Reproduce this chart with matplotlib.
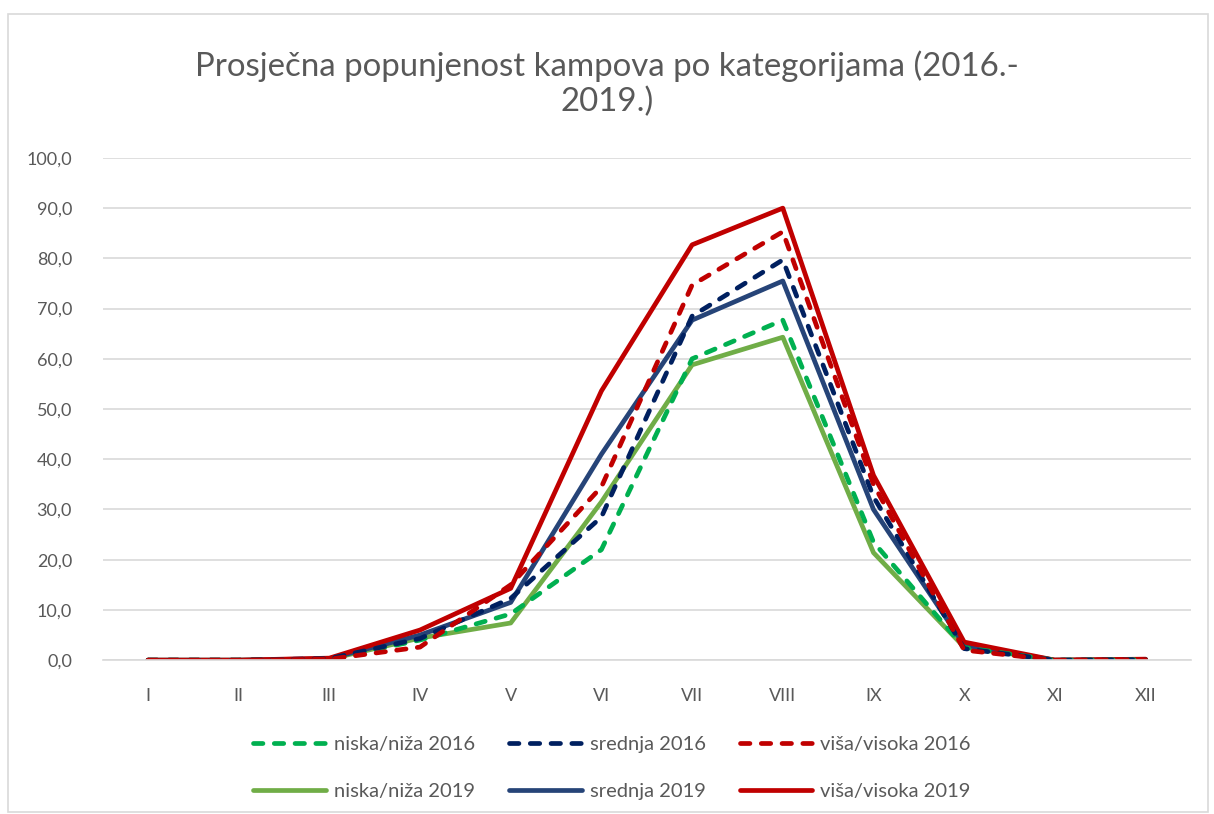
import numpy as np
import matplotlib
matplotlib.use("Agg")
import matplotlib.pyplot as plt
from matplotlib.ticker import FuncFormatter
from matplotlib.patches import Rectangle

plt.rcParams['font.family'] = ['Lato', 'DejaVu Sans']

months = ["I", "II", "III", "IV", "V", "VI", "VII", "VIII", "IX", "X", "XI", "XII"]

niska_2016 = [0.0, 0.0, 0.2, 4.0, 9.2, 22.0, 60.0, 67.7, 23.5, 2.5, 0.0, 0.1]
srednja_2016 = [0.0, 0.0, 0.3, 4.3, 12.3, 28.5, 68.5, 79.7, 32.5, 2.3, 0.0, 0.1]
visoka_2016 = [0.0, 0.0, 0.2, 2.6, 15.0, 34.5, 74.7, 85.3, 35.0, 2.0, 0.0, 0.1]
niska_2019 = [0.0, 0.0, 0.2, 4.4, 7.4, 31.5, 58.8, 64.3, 21.4, 2.6, 0.0, 0.1]
srednja_2019 = [0.0, 0.0, 0.3, 5.0, 11.5, 41.0, 67.7, 75.5, 30.0, 3.0, 0.0, 0.1]
visoka_2019 = [0.0, 0.0, 0.4, 6.0, 14.3, 53.6, 82.7, 90.0, 36.8, 3.6, 0.0, 0.2]

series = [
    ("niska/niža 2016", niska_2016, "#00B050", True),
    ("niska/niža 2019", niska_2019, "#70AD47", False),
    ("srednja 2016", srednja_2016, "#002060", True),
    ("srednja 2019", srednja_2019, "#264478", False),
    ("viša/visoka 2016", visoka_2016, "#C00000", True),
    ("viša/visoka 2019", visoka_2019, "#C00000", False),
]

fig = plt.figure(figsize=(12.14, 8.14), dpi=100)
fig.patches.append(Rectangle((8 / 1214, 2 / 814), 1200 / 1214, 798 / 814,
                             transform=fig.transFigure, fill=False,
                             edgecolor="#d9d9d9", linewidth=1.2))

ax = fig.add_axes([0.0845, 0.189, 0.8965, 0.617])
x = np.arange(len(months))

# solid lines first so dashed ones sit on top like in the original
order = [1, 3, 5, 0, 2, 4]
handles = {}
for i in order:
    label, vals, color, dashed = series[i]
    if dashed:
        ln, = ax.plot(x, vals, color=color, linewidth=3.4, label=label,
                      dashes=(2.0, 2.4), dash_capstyle="round",
                      solid_joinstyle="round")
    else:
        ln, = ax.plot(x, vals, color=color, linewidth=3.4, label=label,
                      solid_capstyle="round", solid_joinstyle="round")
    handles[i] = ln

ax.set_xlim(-0.5, 11.5)
ax.set_ylim(0, 100)
ax.set_yticks(np.arange(0, 101, 10))
ax.yaxis.set_major_formatter(FuncFormatter(lambda v, p: f"{v:.1f}".replace(".", ",")))
ax.set_xticks(x)
ax.set_xticklabels(months)
ax.tick_params(axis="both", length=0, labelsize=13, labelcolor="#595959")
ax.tick_params(axis="y", pad=22)
ax.tick_params(axis="x", pad=20)
ax.grid(axis="y", color="#d9d9d9", linewidth=1.2)
ax.set_axisbelow(True)
for s in ["top", "right", "left"]:
    ax.spines[s].set_visible(False)
ax.spines["bottom"].set_color("#d9d9d9")
ax.spines["bottom"].set_linewidth(1.2)

fig.text(0.5, 1 - 84 / 814, "Prosječna popunjenost kampova po kategorijama (2016.-\n2019.)",
         ha="center", va="center", fontsize=23.8, color="#595959", linespacing=1.2)

leg = fig.legend([handles[i] for i in range(6)], [series[i][0] for i in range(6)],
                 loc="center", bbox_to_anchor=(612 / 1214, 1 - 768 / 814),
                 ncol=3, frameon=False, fontsize=14.5, handlelength=3.6,
                 handletextpad=0.4, columnspacing=1.7, labelspacing=1.5)
for t in leg.get_texts():
    t.set_color("#595959")

fig.savefig("out.png", dpi=100)
